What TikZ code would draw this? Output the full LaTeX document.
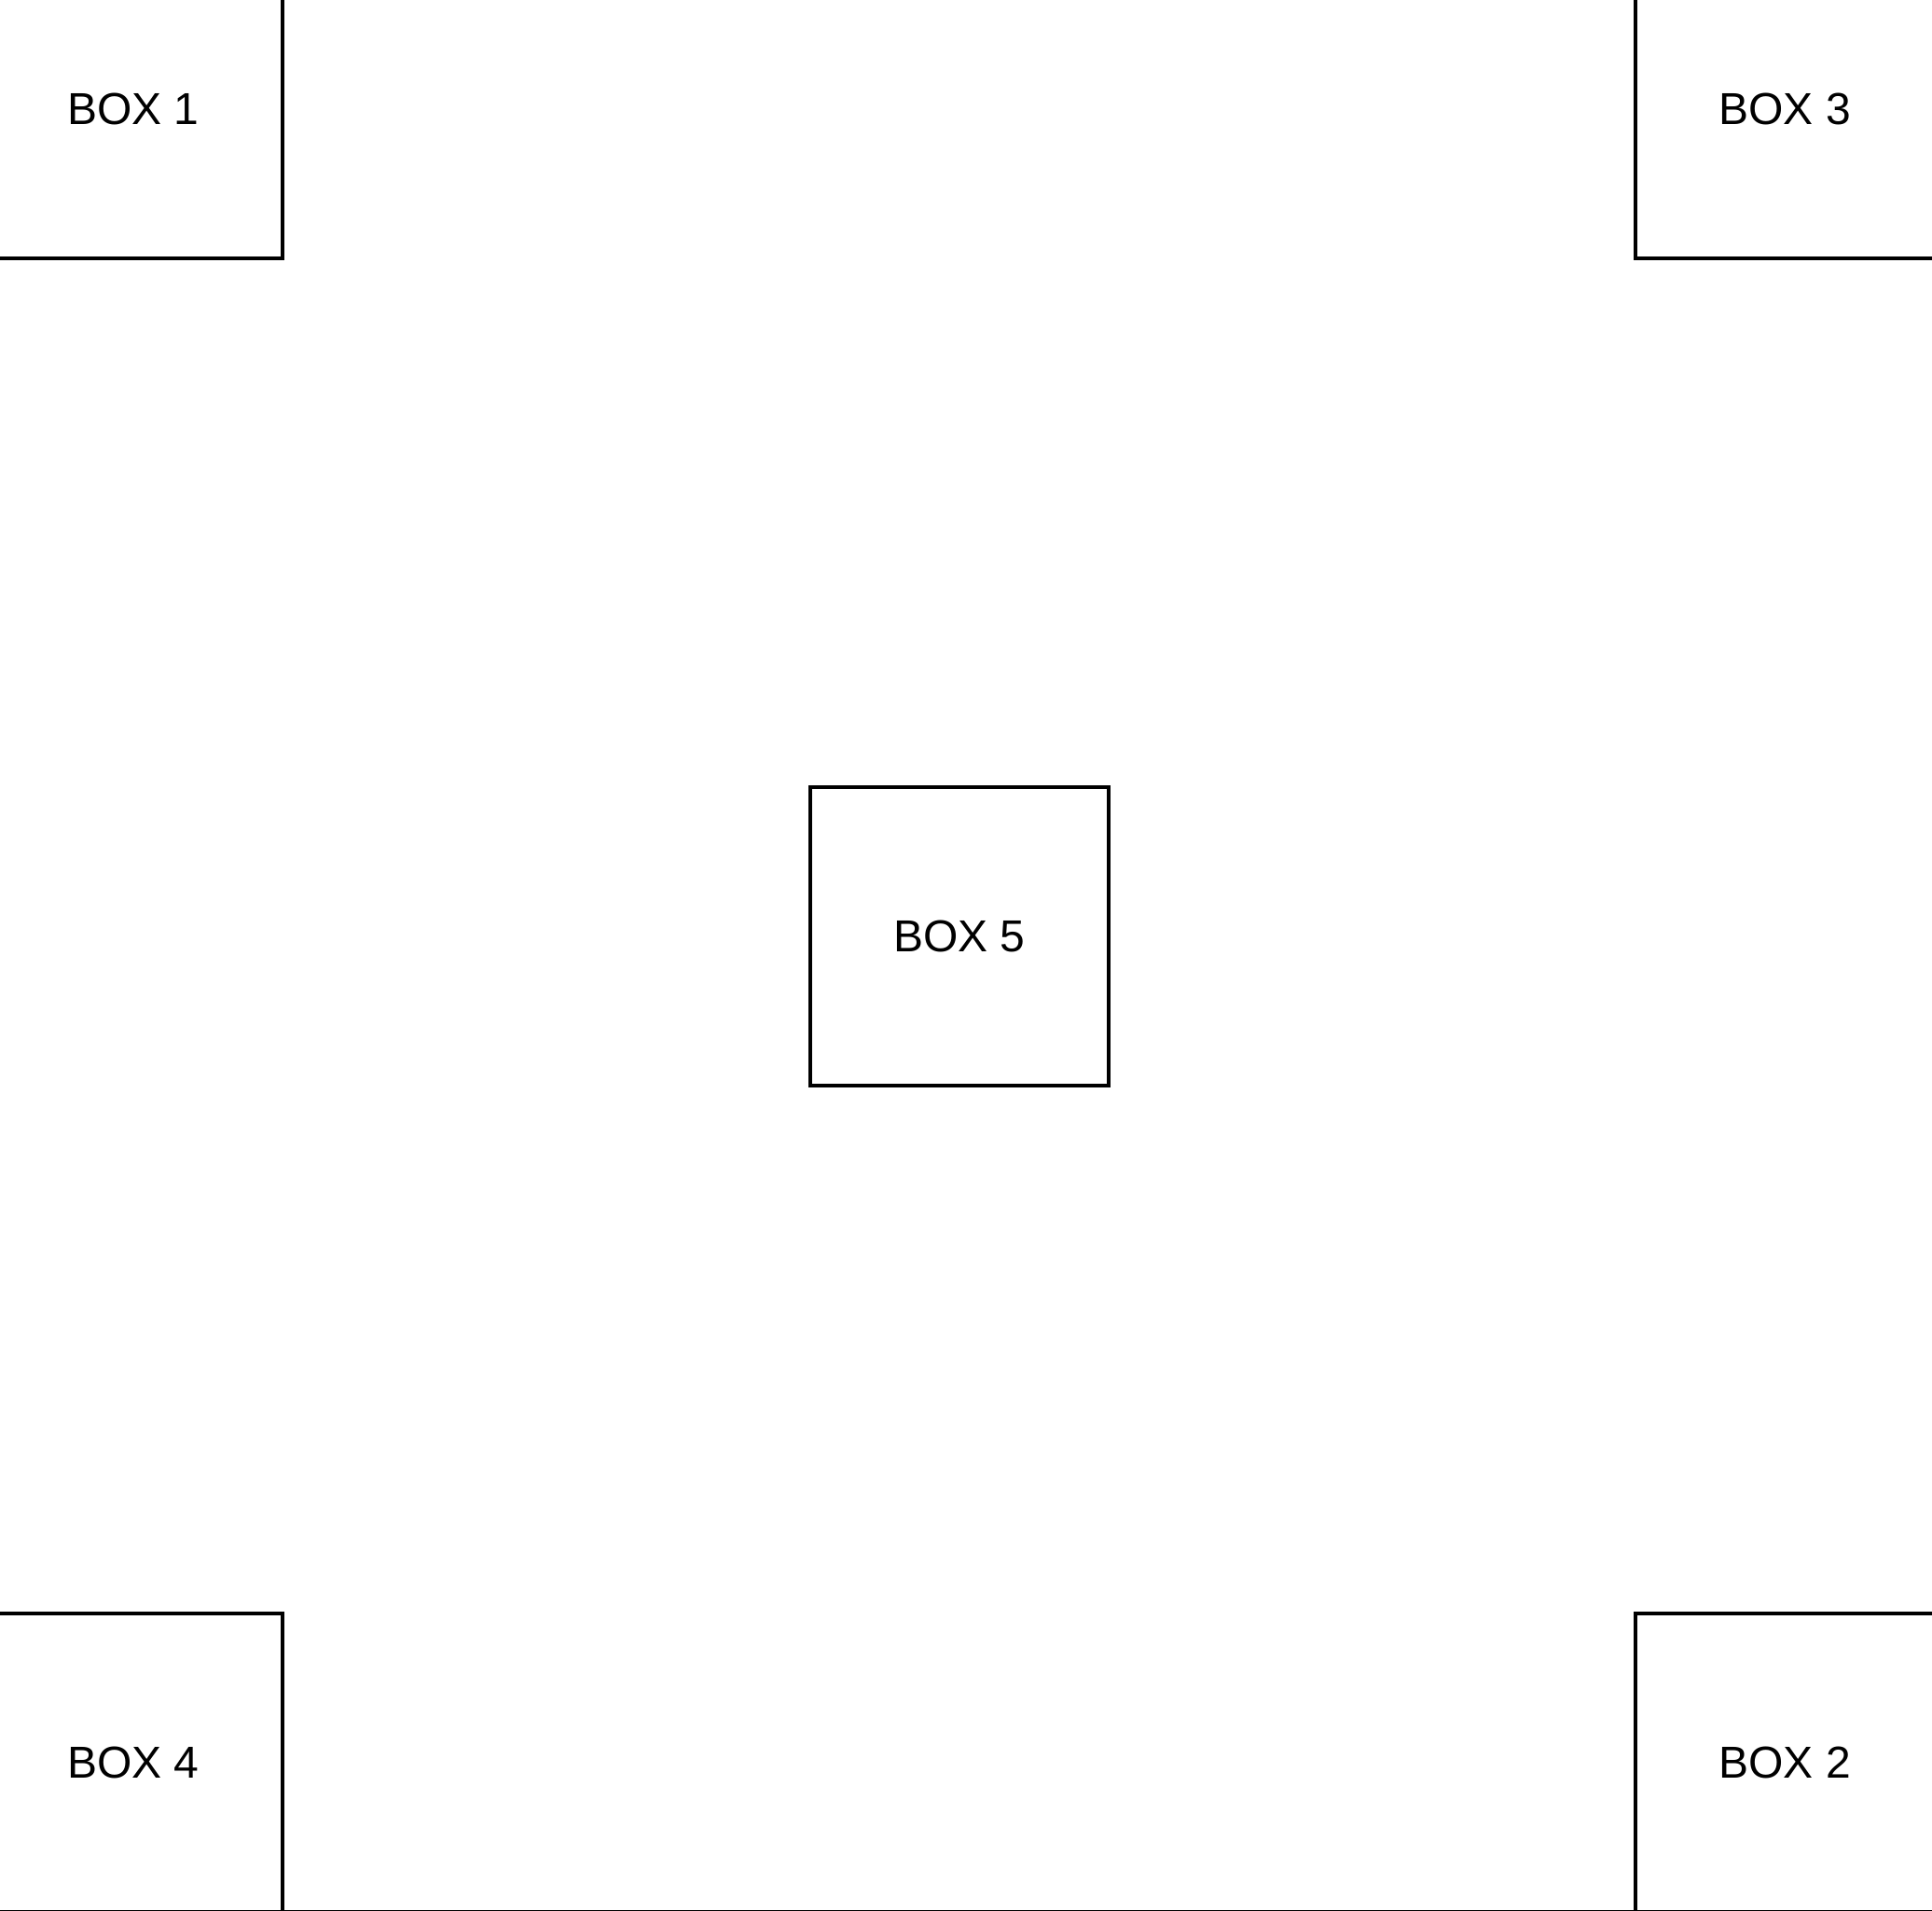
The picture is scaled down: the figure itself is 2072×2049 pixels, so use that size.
\documentclass[tikz,border=0pt]{standalone}
\usepackage{fontspec}
\setmainfont{Liberation Sans}
\begin{document}
\begin{tikzpicture}[x=0.025cm, y=-0.025cm,
		box/.style={draw, line width=0.1cm, minimum size=8cm, inner sep=0pt, font=\fontsize{34.14}{40}\selectfont}]
		\useasboundingbox (0,0) rectangle (2072,2049);
		\clip (0,0) rectangle (2072,2049);
		\node[box] (box1) at (143,117) {BOX 1};
		\node[box] (box3) at (1914,117) {BOX 3};
		\node[box] (box5) at (1029,1004) {BOX 5};
		\node[box] (box4) at (143,1890) {BOX 4};
		\node[box] (box2) at (1914,1890) {BOX 2};
		\draw[line width=0.025cm] (0,2048.5) -- (2072,2048.5);
	\end{tikzpicture}
\end{document}
